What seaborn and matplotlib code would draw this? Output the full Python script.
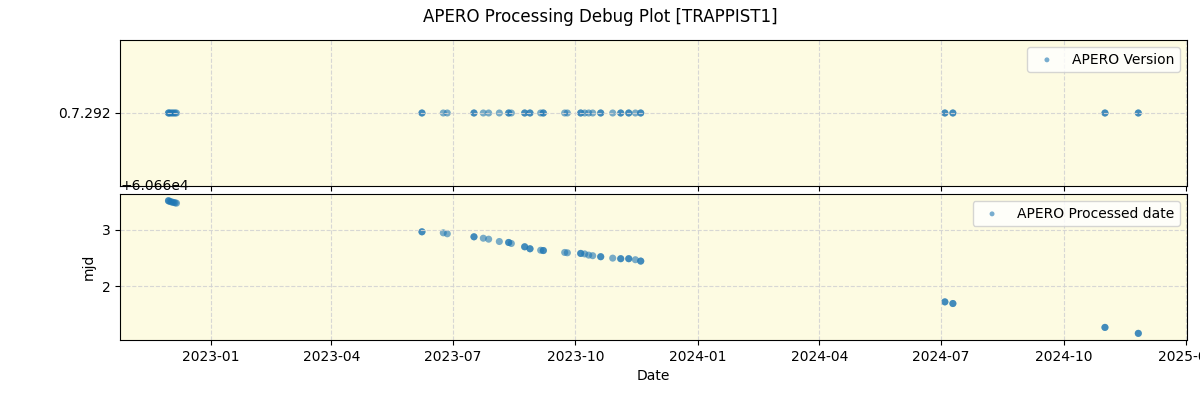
"""
APERO processing debug plot: version and processing date vs observation date.
"""
import pandas as pd
import matplotlib
matplotlib.use("Agg")
import matplotlib.pyplot as plt
import matplotlib.dates as mdates
from matplotlib.ticker import MultipleLocator
import seaborn as sns

obs_dates = [
    "2022-11-30", "2022-11-30", "2022-12-01", "2022-12-02", "2022-12-03",
    "2022-12-04", "2022-12-05", "2022-12-06",
    "2023-06-08", "2023-06-08", "2023-06-24", "2023-06-27",
    "2023-07-17", "2023-07-17", "2023-07-24", "2023-07-28",
    "2023-08-05", "2023-08-12", "2023-08-12", "2023-08-14",
    "2023-08-24", "2023-08-24", "2023-08-28", "2023-08-28",
    "2023-09-05", "2023-09-07", "2023-09-07",
    "2023-09-23", "2023-09-25",
    "2023-10-05", "2023-10-05", "2023-10-08", "2023-10-11", "2023-10-14",
    "2023-10-20", "2023-10-20", "2023-10-29",
    "2023-11-04", "2023-11-04", "2023-11-10", "2023-11-10", "2023-11-15",
    "2023-11-19", "2023-11-19",
    "2024-07-04", "2024-07-04", "2024-07-10", "2024-07-10",
    "2024-11-01", "2024-11-01", "2024-11-26", "2024-11-26",
]

processed_mjd = [
    60663.509, 60663.505, 60663.495, 60663.488, 60663.482,
    60663.476, 60663.470, 60663.465,
    60662.960, 60662.960, 60662.942, 60662.925,
    60662.872, 60662.872, 60662.847, 60662.830,
    60662.789, 60662.772, 60662.772, 60662.754,
    60662.696, 60662.696, 60662.661, 60662.661,
    60662.635, 60662.630, 60662.630,
    60662.596, 60662.590,
    60662.579, 60662.579, 60662.570, 60662.549, 60662.539,
    60662.521, 60662.521, 60662.496,
    60662.486, 60662.486, 60662.486, 60662.486, 60662.468,
    60662.444, 60662.444,
    60661.725, 60661.725, 60661.696, 60661.696,
    60661.275, 60661.275, 60661.170, 60661.170,
]

apero_version = ["0.7.292"] * len(obs_dates)

df = pd.DataFrame({
    "date": pd.to_datetime(obs_dates),
    "mjd": processed_mjd,
    "version": apero_version,
})

bg = "#fdfbe2"
blue = "#1f77b4"
fig, axes = plt.subplots(2, 1, figsize=(12, 4), dpi=100, sharex=True)
fig.subplots_adjust(left=0.1, right=0.989, top=0.9, bottom=0.15, hspace=0.055)
fig.suptitle("APERO Processing Debug Plot [TRAPPIST1]", fontsize=12)

sns.scatterplot(data=df, x="date", y="version", ax=axes[0], s=26,
                alpha=0.6, edgecolor="none", color=blue,
                label="APERO Version")
sns.scatterplot(data=df, x="date", y="mjd", ax=axes[1], s=26,
                alpha=0.6, edgecolor="none", color=blue,
                label="APERO Processed date")

for ax in axes:
    ax.set_facecolor(bg)
    ax.grid(True, linestyle="--", color="lightgray", alpha=0.9)
    ax.legend(loc="upper right", markerscale=0.7)
    ax.set_ylabel("")

axes[0].set_xlabel("")
axes[1].set_ylabel("mjd")
axes[1].set_xlabel("Date")
axes[1].yaxis.set_major_locator(MultipleLocator(1))
axes[1].xaxis.set_major_locator(mdates.MonthLocator(bymonth=[1, 4, 7, 10]))
axes[1].xaxis.set_major_formatter(mdates.DateFormatter("%Y-%m"))

plt.savefig("out.png", dpi=100)
